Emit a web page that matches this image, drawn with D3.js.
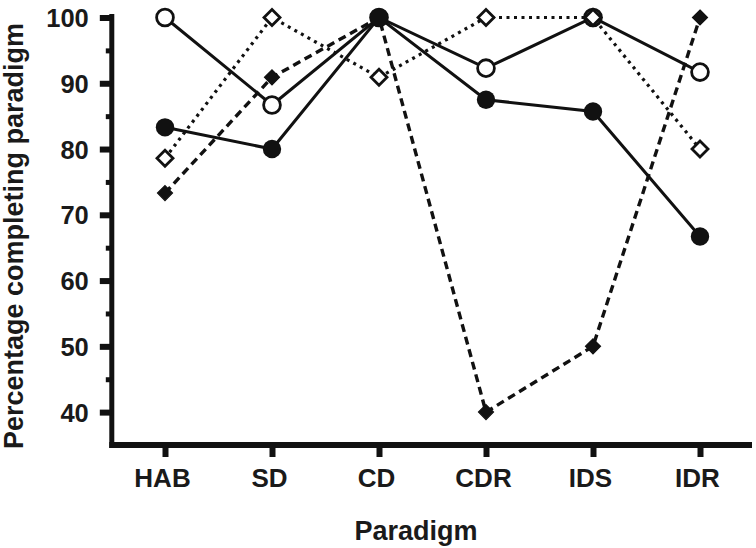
<!DOCTYPE html>
<html><head><meta charset="utf-8">
<script src="https://cdn.jsdelivr.net/npm/d3@7"></script>
<style>body{margin:0;background:#fff;} svg{display:block;} text{font-family:"Liberation Sans",Arial,sans-serif;font-weight:bold;fill:#1a1a1a;}</style>
</head><body><svg id="c" width="756" height="548"></svg>
<script>
const categories = ["HAB","SD","CD","CDR","IDS","IDR"];
const openCircle = [100, 86.7, 100, 92.3, 100, 91.7];
const filledCircle = [83.3, 80, 100, 87.5, 85.7, 66.7];
const openDiamond = [78.6, 100, 90.9, 100, 100, 80];
const filledDiamond = [73.3, 90.9, 100, 40, 50, 100];
const yTicks = [40,50,60,70,80,90,100];
const yMinor = [45,55,65,75,85,95];
const xTitle = "Paradigm";
const yTitle = "Percentage completing paradigm";

const svg = d3.select("#c");
const ink = "#111";
const x = d3.scalePoint().domain(categories).range([165, 700]);
const y = d3.scaleLinear().domain([35, 100]).range([445, 17.5]);
const axX = 111.8;

svg.append("line").attr("x1", axX).attr("x2", axX).attr("y1", 14).attr("y2", 448)
  .attr("stroke", ink).attr("stroke-width", 5);
svg.append("line").attr("x1", axX-2.5).attr("x2", 752).attr("y1", 445).attr("y2", 445)
  .attr("stroke", ink).attr("stroke-width", 6);

const yAxis = d3.axisLeft(y).tickValues(yTicks).tickSize(12).tickPadding(11);
const gy = svg.append("g").attr("transform", `translate(${axX},0)`).call(yAxis);
gy.select(".domain").remove();
gy.selectAll(".tick line").attr("stroke", ink).attr("stroke-width", 6);
gy.selectAll(".tick text").attr("font-size", 25.5).attr("fill", "#1a1a1a").attr("dy", "0.36em")
  .style("font-family", '"Liberation Sans",Arial,sans-serif').style("font-weight", "bold");
const yAxisMinor = d3.axisLeft(y).tickValues(yMinor).tickSize(6).tickFormat("");
const gym = svg.append("g").attr("transform", `translate(${axX},0)`).call(yAxisMinor);
gym.select(".domain").remove();
gym.selectAll(".tick line").attr("stroke", ink).attr("stroke-width", 5);

const xAxis = d3.axisBottom(x).tickSize(12).tickPadding(12);
const gx = svg.append("g").attr("transform", `translate(0,445)`).call(xAxis);
gx.select(".domain").remove();
gx.selectAll(".tick line").attr("stroke", ink).attr("stroke-width", 6);
gx.selectAll(".tick text").attr("font-size", 26).attr("fill", "#1a1a1a").attr("dx", -3)
  .style("font-family", '"Liberation Sans",Arial,sans-serif').style("font-weight", "bold");

svg.append("text").attr("x", 416).attr("y", 540).attr("text-anchor", "middle")
  .attr("font-size", 27).text(xTitle);
svg.append("text").attr("transform", "translate(23,236) rotate(-90)").attr("text-anchor", "middle")
  .attr("font-size", 27).text(yTitle);

const line = d3.line().x((d,i)=>x(categories[i])).y(d=>y(d));
function drawLine(data, dash, w){
  svg.append("path").attr("d", line(data)).attr("fill","none").attr("stroke", ink)
    .attr("stroke-width", w).attr("stroke-dasharray", dash);
}
const diamond = (s)=>`M0,${-s}L${s},0L0,${s}L${-s},0Z`;

drawLine(openDiamond, "3,4.5", 3.2);
drawLine(filledDiamond, "8,5", 3.4);
drawLine(openCircle, null, 3);
drawLine(filledCircle, null, 3);

svg.selectAll(".oc").data(openCircle).enter().append("circle")
  .attr("cx",(d,i)=>x(categories[i])).attr("cy",d=>y(d)).attr("r",8.4)
  .attr("fill","#fff").attr("stroke",ink).attr("stroke-width",2.8);
svg.selectAll(".od").data(openDiamond).enter().append("path")
  .attr("transform",(d,i)=>`translate(${x(categories[i])},${y(d)})`).attr("d",diamond(8))
  .attr("fill","#fff").attr("stroke",ink).attr("stroke-width",2.8);
svg.selectAll(".fd").data(filledDiamond).enter().append("path")
  .attr("transform",(d,i)=>`translate(${x(categories[i])},${y(d)})`).attr("d",diamond(7.5))
  .attr("fill",ink).attr("stroke",ink).attr("stroke-width",1.2);
svg.selectAll(".fc").data(filledCircle).enter().append("circle")
  .attr("cx",(d,i)=>x(categories[i])).attr("cy",d=>y(d)).attr("r",9.2)
  .attr("fill",ink);
</script></body></html>
